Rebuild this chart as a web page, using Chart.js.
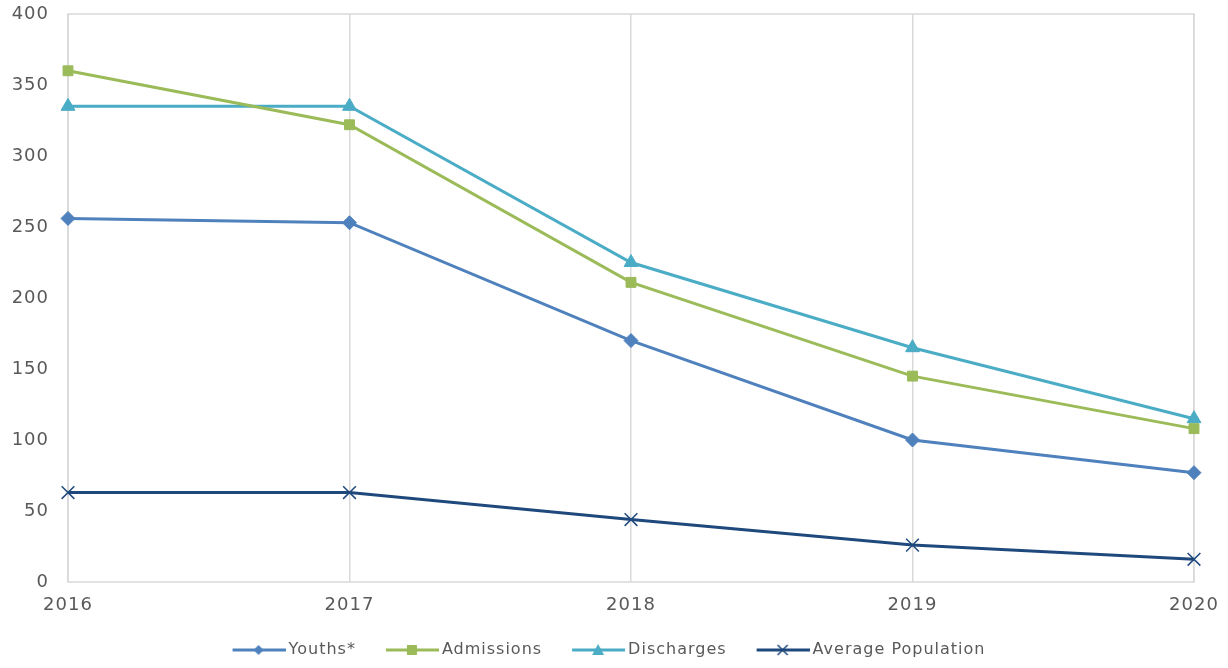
<!DOCTYPE html>
<html>
<head>
<meta charset="utf-8">
<script src="https://cdn.jsdelivr.net/npm/chart.js@4.4.1/dist/chart.umd.min.js"></script>
<style>
  html, body { margin: 0; padding: 0; background: #fff; }
  #wrap { width: 1228px; height: 668px; }
</style>
</head>
<body>
<div id="wrap"><canvas id="myChart"></canvas></div>
<script>
const years = ["2016", "2017", "2018", "2019", "2020"];
const youths = [256, 253, 170, 100, 77];
const admissions = [360, 322, 211, 145, 108];
const discharges = [335, 335, 225, 165, 115];
const avgPopulation = [63, 63, 44, 26, 16];
const yTicks = [0, 50, 100, 150, 200, 250, 300, 350, 400];

const colors = ["#4F81BD", "#9BBB59", "#4BACC6", "#1F497D"];
const styles = ["rectRot", "rect", "triangle", "crossRot"];

const ICON_BOX = 72;

// line + marker picture for the legend, with blank room on the left as item spacing
function legendIcon(color, style) {
    const c = document.createElement("canvas");
    c.width = ICON_BOX + 10;
    c.height = 16;
    const g = c.getContext("2d");
    const x0 = c.width - 53;
    const mid = x0 + 26;
    g.strokeStyle = color;
    g.fillStyle = color;
    g.lineWidth = 3;
    g.beginPath();
    g.moveTo(x0, 8);
    g.lineTo(c.width, 8);
    g.stroke();
    g.beginPath();
    if (style === "rectRot") {
        g.moveTo(mid, 3); g.lineTo(mid + 5, 8); g.lineTo(mid, 13); g.lineTo(mid - 5, 8);
        g.closePath(); g.fill();
    } else if (style === "rect") {
        g.fillRect(mid - 5, 3, 10, 10);
    } else if (style === "triangle") {
        g.moveTo(mid, 2); g.lineTo(mid + 6, 13); g.lineTo(mid - 6, 13);
        g.closePath(); g.fill();
    } else {
        g.lineWidth = 1.5;
        g.moveTo(mid - 5, 3); g.lineTo(mid + 5, 13);
        g.moveTo(mid + 5, 3); g.lineTo(mid - 5, 13);
        g.stroke();
    }
    return c;
}

function series(label, data, i) {
    return {
        label: label,
        data: data,
        borderColor: colors[i],
        backgroundColor: colors[i],
        borderWidth: 3,
        pointStyle: styles[i],
        pointRadius: i === 3 ? 9 : (i === 2 ? 8 : 7),
        pointBorderWidth: i === 3 ? 1.5 : 1,
        tension: 0,
    };
}

// Century Gothic-ish wide look: a touch of letter spacing
const spacing = {
    id: "spacing",
    beforeUpdate(chart) { chart.ctx.letterSpacing = "1px"; },
    beforeDraw(chart) { chart.ctx.letterSpacing = "1px"; },
};

const frame = {
    id: "frame",
    beforeDatasetsDraw(chart) {
        const a = chart.chartArea;
        const g = chart.ctx;
        g.save();
        g.strokeStyle = "#D9D9D9";
        g.lineWidth = 1.5;
        g.strokeRect(a.left, a.top, a.right - a.left, a.bottom - a.top);
        g.restore();
    },
};

new Chart(document.getElementById("myChart"), {
    type: "line",
    data: {
        labels: years,
        datasets: [
            series("Youths*", youths, 0),
            series("Admissions", admissions, 1),
            series("Discharges", discharges, 2),
            series("Average Population", avgPopulation, 3),
        ],
    },
    options: {
        responsive: true,
        maintainAspectRatio: false,
        animation: false,
        layout: { padding: { left: 0, right: 34, top: 14, bottom: 0 } },
        scales: {
            x: {
                offset: false,
                grid: { color: "#D9D9D9", lineWidth: 1.5, drawTicks: false },
                border: { display: false },
                ticks: {
                    padding: 13,
                    color: "#595959",
                    font: { family: "'DejaVu Sans'", size: 18 },
                    maxRotation: 0,
                },
                afterFit: (s) => {
                    s.height = 54;
                    s.paddingLeft = 0;
                    s.paddingRight = 0;
                },
            },
            y: {
                min: 0,
                max: 400,
                grid: { display: false, drawTicks: false },
                border: { display: false },
                afterBuildTicks: (s) => { s.ticks = yTicks.map((v) => ({ value: v })); },
                ticks: {
                    padding: 19,
                    color: "#595959",
                    font: { family: "'DejaVu Sans'", size: 18 },
                },
                afterFit: (s) => {
                    s.width = 68;
                    s.paddingTop = 0;
                    s.paddingBottom = 0;
                },
            },
        },
        plugins: {
            tooltip: { enabled: false },
            legend: {
                position: "bottom",
                labels: {
                    usePointStyle: true,
                    pointStyleWidth: ICON_BOX,
                    padding: 6,
                    color: "#595959",
                    font: { family: "'DejaVu Sans'", size: 16 },
                    generateLabels(chart) {
                        const items = Chart.defaults.plugins.legend.labels.generateLabels(chart);
                        items.forEach((it, i) => {
                            it.pointStyle = legendIcon(colors[i], styles[i]);
                        });
                        return items;
                    },
                },
            },
        },
    },
    plugins: [spacing, frame],
});
</script>
</body>
</html>
